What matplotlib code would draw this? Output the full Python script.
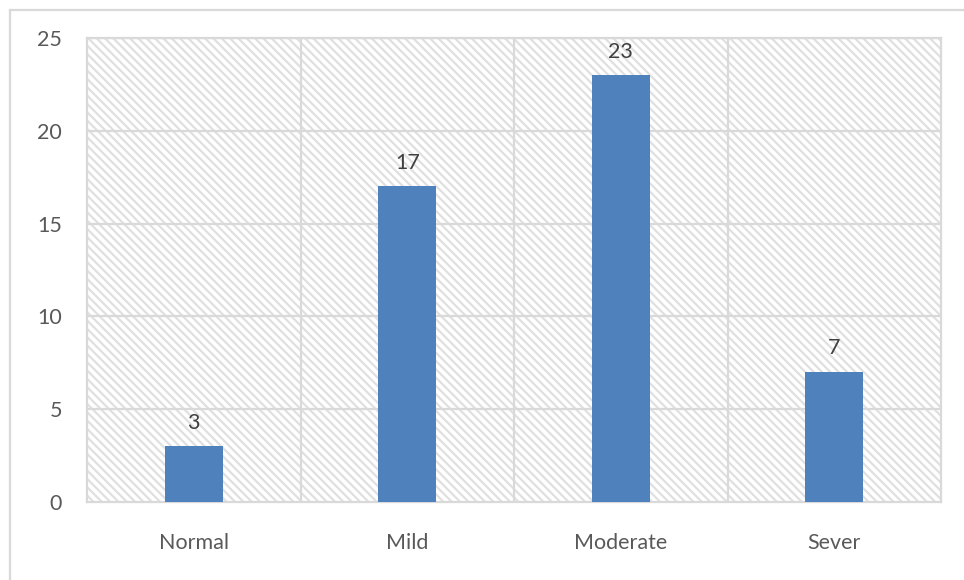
import matplotlib.pyplot as plt
from matplotlib.patches import Rectangle
from matplotlib.lines import Line2D

categories = ["Normal", "Mild", "Moderate", "Sever"]
counts = [3, 17, 23, 7]
y_ticks = [0, 5, 10, 15, 20, 25]

BAR = "#4f81bd"
GRID = "#d9d9d9"
TXT = "#595959"
VAL = "#404040"

plt.rcParams["font.family"] = ["Lato", "DejaVu Sans"]
plt.rcParams["hatch.color"] = "#e0e0e0"
plt.rcParams["hatch.linewidth"] = 1.6

fig = plt.figure(figsize=(9.64, 5.8), dpi=100)
fig.patch.set_facecolor("white")

# outer chart frame (only top and left visible)
fig.add_artist(Line2D([9.5 / 964, 1.0], [1 - 10 / 580, 1 - 10 / 580],
                      transform=fig.transFigure, color=GRID, lw=1.6))
fig.add_artist(Line2D([9.5 / 964, 9.5 / 964], [0.0, 1 - 10 / 580],
                      transform=fig.transFigure, color=GRID, lw=1.6))

ax = fig.add_axes([87 / 964, 1 - 502 / 580, (941 - 87) / 964, (502 - 38) / 580])

# hatched plot background
ax.add_patch(Rectangle((0, 0), 1, 1, transform=ax.transAxes,
                       facecolor="white", edgecolor="#e0e0e0",
                       hatch="\\\\\\\\", lw=0, zorder=0))

x = list(range(len(categories)))
bars = ax.bar(x, counts, width=0.27, color=BAR, zorder=3)

for xi, v in zip(x, counts):
    ax.annotate(str(v), (xi, v), xytext=(0, 17), textcoords="offset points",
                ha="center", va="center", fontsize=15.5, color=VAL)

ax.set_xlim(-0.5, len(categories) - 0.5)
ax.set_ylim(0, 25)
ax.set_yticks(y_ticks)
ax.set_xticks(x)
ax.set_xticklabels(categories)

# category separators and value gridlines
for b in [0.5, 1.5, 2.5]:
    ax.axvline(b, color=GRID, lw=1.6, zorder=1)
for t in y_ticks[1:]:
    ax.axhline(t, color=GRID, lw=1.6, zorder=1)

for s in ax.spines.values():
    s.set_color(GRID)
    s.set_linewidth(1.6)

ax.tick_params(axis="both", length=0, labelsize=15.5, colors=TXT)
ax.tick_params(axis="y", pad=18)
ax.tick_params(axis="x", pad=22)

fig.savefig("out.png", dpi=100)
